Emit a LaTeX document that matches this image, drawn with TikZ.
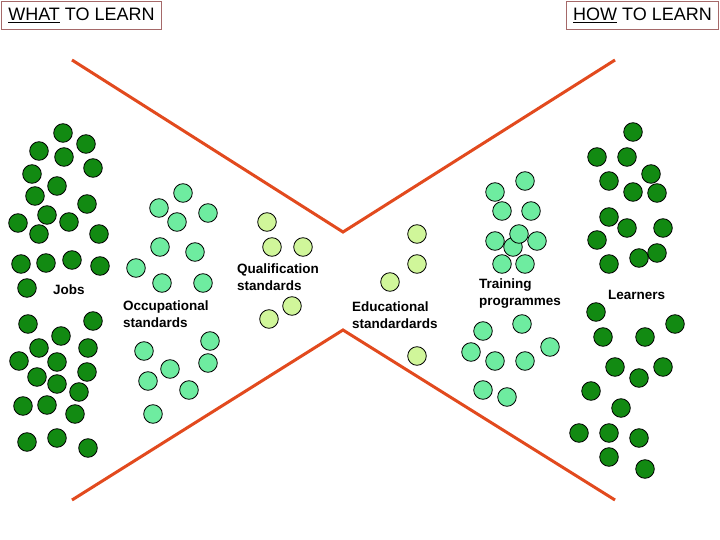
\documentclass[tikz,border=0pt]{standalone}
\usepackage{fontspec}
\setmainfont{Liberation Sans}
\usetikzlibrary{positioning}
\definecolor{Lline}{RGB}{226,74,30}
\definecolor{Ljob}{RGB}{18,138,18}
\definecolor{Lstd}{RGB}{110,236,160}
\definecolor{Lqual}{RGB}{208,246,154}
\definecolor{Lframe}{RGB}{165,105,105}

\begin{document}
\begin{tikzpicture}[
  x=1pt, y=-1pt,
  dot/.style={draw=black, line width=0.8pt},
  funnel/.style={draw=Lline, line width=3pt},
  hdr/.style={draw=Lframe, line width=0.9pt, anchor=north west, inner sep=0pt,
    minimum height=28pt, font=\fontsize{18}{20}\selectfont},
  lab/.style={anchor=west, align=left, inner sep=0pt, font=\fontsize{13.5}{17}\selectfont\bfseries},
]
\useasboundingbox (0,0) rectangle (720,540);

% ── headers ──────────────────────────────────────────────────────────
\node[hdr, minimum width=160pt] (what) at (1,1) {\underline{WHAT} TO LEARN};
\node[hdr, minimum width=152pt] (how) at (566,1) {\underline{HOW} TO LEARN};

% ── funnel lines ─────────────────────────────────────────────────────
\draw[funnel] (72,60) -- (343,232) -- (615,60);
\draw[funnel] (72,500) -- (343,330) -- (615,500);

% ── jobs ─────────────────────────────────────────────────────────────
\foreach \x/\y in {63/133,39/151,86/144,64/157,32/174,93/168,57/186,35/196,87/204,
  47/215,18/223,69/222,39/234,99/234,21/264,46/263,72/260,100/266,27/288,
  28/324,93/321,61/336,39/348,88/348,19/361,57/362,37/377,57/384,87/372,79/392,
  23/406,47/405,75/414,27/442,57/438,88/448}
  \filldraw[dot, fill=Ljob] (\x,\y) circle (9.3);
\node[lab] (jobs) at (53,290) {Jobs};

% ── occupational standards ───────────────────────────────────────────
\foreach \x/\y in {183/193,159/208,208/213,177/222,160/247,195/252,136/268,162/283,
  203/283,210/341,144/351,170/369,208/363,148/381,189/390,153/414}
  \filldraw[dot, fill=Lstd] (\x,\y) circle (9.3);
\node[lab] (occ) at (123,314) {Occupational\\standards};

% ── qualification standards ──────────────────────────────────────────
\foreach \x/\y in {267/222,272/247,303/247,292/306,269/319}
  \filldraw[dot, fill=Lqual] (\x,\y) circle (9.3);
\node[lab] (qual) at (237,277) {Qualification\\standards};

% ── educational standards ────────────────────────────────────────────
\foreach \x/\y in {417/234,417/264,390/282,417/356}
  \filldraw[dot, fill=Lqual] (\x,\y) circle (9.3);
\node[lab] (edu) at (352,315) {Educational\\standardards};

% ── training programmes ──────────────────────────────────────────────
\foreach \x/\y in {525/181,495/192,502/211,531/211,495/241,513/247,519/234,537/241,
  502/264,525/264,483/331,522/324,550/347,471/352,495/361,525/361,483/390,507/397}
  \filldraw[dot, fill=Lstd] (\x,\y) circle (9.3);
\node[lab] (train) at (479,294) {Training\\programmes};

% ── learners ─────────────────────────────────────────────────────────
\foreach \x/\y in {633/132,597/157,627/157,609/181,651/174,633/192,657/193,609/217,
  627/228,663/228,597/240,657/253,639/258,609/264,596/312,675/324,603/337,645/337,
  615/367,663/367,639/378,591/391,621/408,579/433,609/433,639/438,609/457,645/469}
  \filldraw[dot, fill=Ljob] (\x,\y) circle (9.3);
\node[lab] (learn) at (608,295) {Learners};

\end{tikzpicture}
\end{document}
